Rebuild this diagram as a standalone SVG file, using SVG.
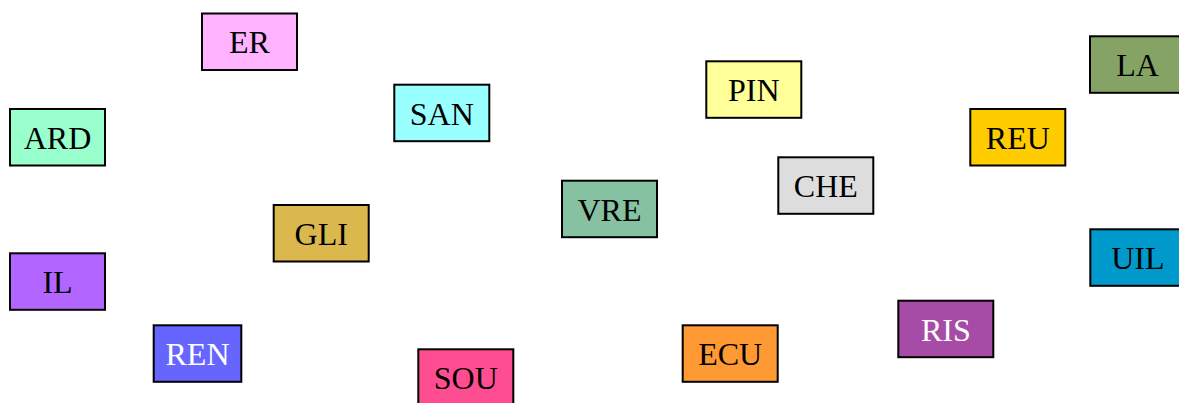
<svg xmlns="http://www.w3.org/2000/svg" width="1179" height="403" viewBox="0 0 1179 403">
<style>
rect.n{stroke:#000;stroke-width:2}
text{font-family:"Liberation Serif","Times New Roman",serif;font-size:32px;text-anchor:middle;fill:#000}
text.w{fill:#fff}
</style>
<rect width="1179" height="403" fill="#fff"/>
<g id="connectors"></g>
<g id="ER"><rect class="n" x="202" y="13.5" width="95" height="56.5" fill="#ffb3ff"/><text x="249.5" y="53.3">ER</text></g>
<g id="ARD"><rect class="n" x="10" y="109" width="95" height="56.5" fill="#99ffcc"/><text x="57.5" y="148.8">ARD</text></g>
<g id="SAN"><rect class="n" x="394.3" y="84.7" width="95" height="56.5" fill="#99ffff"/><text x="441.8" y="124.5">SAN</text></g>
<g id="PIN"><rect class="n" x="706.3" y="61.3" width="95" height="56.5" fill="#ffff99"/><text x="753.8" y="101.1">PIN</text></g>
<g id="CHE"><rect class="n" x="778.3" y="157.3" width="95" height="56.5" fill="#dddddd"/><text x="825.8" y="197.1">CHE</text></g>
<g id="VRE"><rect class="n" x="562" y="180.7" width="95" height="56.5" fill="#86c1a1"/><text x="609.5" y="220.5">VRE</text></g>
<g id="GLI"><rect class="n" x="273.7" y="205" width="95" height="56.5" fill="#dbb84d"/><text x="321.2" y="244.8">GLI</text></g>
<g id="IL"><rect class="n" x="10" y="253.3" width="95" height="56.5" fill="#b366ff"/><text x="57.5" y="293.1">IL</text></g>
<g id="REN"><rect class="n" x="153.7" y="325.3" width="87.6" height="56.5" fill="#6666ff"/><text class="w" x="197.5" y="365.1">REN</text></g>
<g id="SOU"><rect class="n" x="418.3" y="349.3" width="95" height="56.5" fill="#ff4d91"/><text x="465.8" y="389.1">SOU</text></g>
<g id="ECU"><rect class="n" x="682.7" y="325.3" width="95" height="56.5" fill="#ff9933"/><text x="730.2" y="365.1">ECU</text></g>
<g id="RIS"><rect class="n" x="898.3" y="300.7" width="95" height="56.5" fill="#a64ca6"/><text class="w" x="945.8" y="340.5">RIS</text></g>
<g id="UIL"><rect class="n" x="1090.3" y="229.3" width="95" height="56.5" fill="#0099cc"/><text x="1137.8" y="269.1">UIL</text></g>
<g id="REU"><rect class="n" x="970.3" y="109" width="95" height="56.5" fill="#ffcc00"/><text x="1017.8" y="148.8">REU</text></g>
<g id="LA"><rect class="n" x="1090" y="36.3" width="95" height="56.5" fill="#86a366"/><text x="1137.5" y="76.1">LA</text></g>
</svg>
